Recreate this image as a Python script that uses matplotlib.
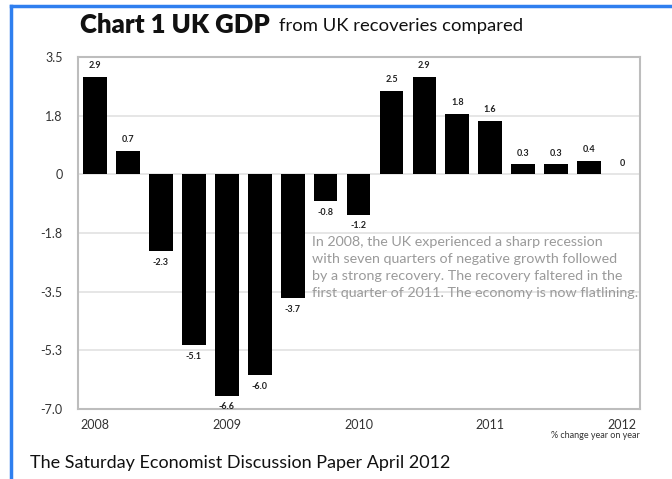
import matplotlib
matplotlib.use('Agg')
import matplotlib.pyplot as plt
from matplotlib.lines import Line2D

plt.rcParams['font.family'] = ['Lato', 'DejaVu Sans']

# quarterly UK GDP, % change year on year, 2008 Q1 .. 2012 Q1
growth = [2.9, 0.7, -2.3, -5.1, -6.6, -6.0, -3.7, -0.8, -1.2,
          2.5, 2.9, 1.8, 1.6, 0.3, 0.3, 0.4, 0.0]
value_labels = ['2.9', '0.7', '-2.3', '-5.1', '-6.6', '-6.0', '-3.7', '-0.8', '-1.2',
                '2.5', '2.9', '1.8', '1.6', '0.3', '0.3', '0.4', '0']
year_labels = ['2008', '2009', '2010', '2011', '2012']
year_pos = [0, 4, 8, 12, 16]
y_ticks = [3.5, 1.75, 0, -1.75, -3.5, -5.25, -7.0]
y_tick_labels = ['3.5', '1.8', '0', '-1.8', '-3.5', '-5.3', '-7.0']

note = ("In 2008, the UK experienced a sharp recession\n"
        "with seven quarters of negative growth followed\n"
        "by a strong recovery. The recovery faltered in the\n"
        "first quarter of 2011. The economy is now flatlining.")

fig = plt.figure(figsize=(6.72, 4.79), dpi=100)
ax = fig.add_axes([78 / 672, 1 - 409 / 479, 562 / 672, 352 / 479])

x = list(range(len(growth)))
ax.bar(x, growth, width=0.72, color='black', zorder=3)

for xi, v, lab in zip(x, growth, value_labels):
    if v >= 0:
        ax.text(xi, v + 0.2, lab, ha='center', va='bottom', fontsize=6.5,
                fontweight='bold', color='#222222')
    else:
        ax.text(xi, v - 0.2, lab, ha='center', va='top', fontsize=6.5,
                fontweight='bold', color='#222222')

ax.set_xlim(-0.52, 16.55)
ax.set_ylim(-7.0, 3.5)
ax.set_yticks(y_ticks)
ax.set_yticklabels(y_tick_labels)
ax.set_xticks(year_pos)
ax.set_xticklabels(year_labels)
ax.tick_params(length=0, labelsize=9, colors='#333333', pad=11)
ax.tick_params(axis='x', pad=7)
ax.yaxis.grid(True, color='#e2e2e2', linewidth=1.2, zorder=0)
for s in ax.spines.values():
    s.set_color('#bdbdbd')
    s.set_linewidth(1.5)

ax.text(6.6, -1.85, note, ha='left', va='top', fontsize=10.3, color='#9a9a9a',
        linespacing=1.5)

fig.text(80 / 672, 1 - 25 / 479, 'Chart 1 UK GDP', fontsize=18.5, fontweight='heavy',
         ha='left', va='center', color='#111111')
fig.text(279 / 672, 1 - 26 / 479, 'from UK recoveries compared', fontsize=13.3,
         ha='left', va='center', color='#111111')
fig.text(640 / 672, 1 - 436 / 479, '% change year on year', fontsize=6.5,
         ha='right', va='center', color='#333333')
fig.text(30 / 672, 1 - 463 / 479, 'The Saturday Economist Discussion Paper April 2012',
         fontsize=13, ha='left', va='center', color='#111111')

# blue frame on the left and top of the screenshot
fig.add_artist(Line2D([10.5 / 672, 10.5 / 672], [0, 1 - 6 / 479], color='#2f7fef',
                      linewidth=2.5, transform=fig.transFigure))
fig.add_artist(Line2D([10.5 / 672, 1], [1 - 6 / 479, 1 - 6 / 479], color='#2f7fef',
                      linewidth=2.5, transform=fig.transFigure))

fig.savefig('out.png', dpi=100)
